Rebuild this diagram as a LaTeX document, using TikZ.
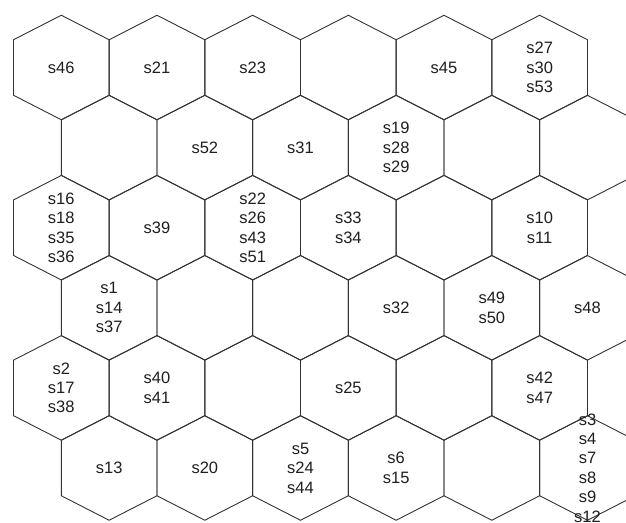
\documentclass[tikz,border=0pt]{standalone}
\usepackage{fontspec}
\setmainfont{Liberation Sans}
\begin{document}
\begin{tikzpicture}[x=1pt,y=-1pt,
  hexline/.style={draw=black!80,line width=0.9pt,line join=miter},
  lab/.style={align=center,inner sep=0pt,text=black!88,font=\fontsize{16.5}{19.4}\selectfont}]
\useasboundingbox (0,0) rectangle (626,522);
\clip (0,0) rectangle (626,522);
\fill[white] (0,0) rectangle (626,522);
\foreach \r in {0,...,5}{
  \foreach \k in {0,...,5}{
    \pgfmathsetmacro\cx{61.3+95.67*\k+47.83*mod(\r,2)}
    \pgfmathsetmacro\cy{67.5+80.1*\r}
    \coordinate (c-\r-\k) at (\cx,\cy);
    \draw[hexline] (c-\r-\k) ++(0,-52.25) -- ++(47.83,24.5) -- ++(0,55.5)
      -- ++(-47.83,24.5) -- ++(-47.83,-24.5) -- ++(0,-55.5) -- cycle;
  }
}
% row 0
\node[lab] (s46) at (c-0-0) {s46};
\node[lab] (s21) at (c-0-1) {s21};
\node[lab] (s23) at (c-0-2) {s23};
\node[lab] (s45) at (c-0-4) {s45};
\node[lab] (s27) at (c-0-5) {s27\\s30\\s53};
% row 1
\node[lab] (s52) at (c-1-1) {s52};
\node[lab] (s31) at (c-1-2) {s31};
\node[lab] (s19) at (c-1-3) {s19\\s28\\s29};
% row 2
\node[lab] (s16) at (c-2-0) {s16\\s18\\s35\\s36};
\node[lab] (s39) at (c-2-1) {s39};
\node[lab] (s22) at (c-2-2) {s22\\s26\\s43\\s51};
\node[lab] (s33) at (c-2-3) {s33\\s34};
\node[lab] (s10) at (c-2-5) {s10\\s11};
% row 3
\node[lab] (s1) at (c-3-0) {s1\\s14\\s37};
\node[lab] (s32) at (c-3-3) {s32};
\node[lab] (s49) at (c-3-4) {s49\\s50};
\node[lab] (s48) at (c-3-5) {s48};
% row 4
\node[lab] (s2) at (c-4-0) {s2\\s17\\s38};
\node[lab] (s40) at (c-4-1) {s40\\s41};
\node[lab] (s25) at (c-4-3) {s25};
\node[lab] (s42) at (c-4-5) {s42\\s47};
% row 5
\node[lab] (s13) at (c-5-0) {s13};
\node[lab] (s20) at (c-5-1) {s20};
\node[lab] (s5) at (c-5-2) {s5\\s24\\s44};
\node[lab] (s6) at (c-5-3) {s6\\s15};
\node[lab] (s3) at (c-5-5) {s3\\s4\\s7\\s8\\s9\\s12};
\end{tikzpicture}
\end{document}
